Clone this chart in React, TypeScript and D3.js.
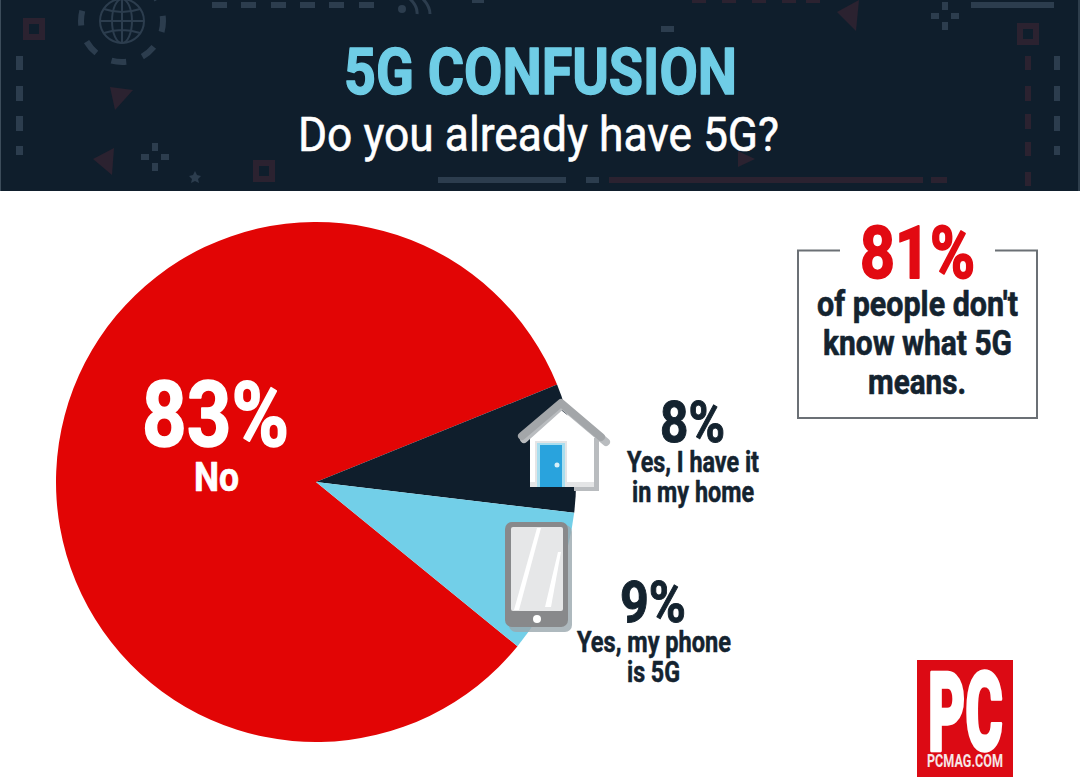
import React from "react";
import * as d3 from "d3";

const categories = ["No", "Yes, I have it in my home", "Yes, my phone is 5G"];
const shares = [83, 8, 9];
const sliceColors = ["#e20505", "#0f1e2c", "#72cfe8"];
const titleText = "5G CONFUSION";
const subtitleText = "Do you already have 5G?";
const calloutLines = ["of people don't", "know what 5G", "means."];

const NAVY = "#14232f";
const FONT = "Roboto, sans-serif";
const DECOR_GREY = "#2c3d4e";
const DECOR_RED = "#2b2230";

type TProps = { x: number; y: number; w: number; fs: number; fill: string; weight?: number; heavy?: number; children: React.ReactNode };
const T = ({ x, y, w, fs, fill, weight = 700, heavy = 0.018, children }: TProps) => (
  <text x={x} y={y} fontSize={fs} fontWeight={weight} fontFamily={FONT} fill={fill}
    stroke={fill} strokeWidth={fs * heavy} strokeLinejoin="round"
    textLength={w} lengthAdjust="spacingAndGlyphs">{children}</text>
);

const Plus = ({ cx, cy }: { cx: number; cy: number }) => (
  <g fill={DECOR_GREY}>
    <rect x={cx - 3} y={cy - 14} width={6} height={8} />
    <rect x={cx - 3} y={cy + 6} width={6} height={8} />
    <rect x={cx - 14} y={cy - 3} width={8} height={6} />
    <rect x={cx + 6} y={cy - 3} width={8} height={6} />
  </g>
);
const HollowSquare = ({ cx, cy }: { cx: number; cy: number }) => (
  <rect x={cx - 8} y={cy - 8} width={16} height={16} fill="none" stroke={DECOR_RED} strokeWidth={6} />
);

const Header = () => (
  <g>
    <rect x={0} y={0} width={1080} height={191} fill="#0f1e2c" />
    <rect x={0} y={0} width={1} height={191} fill="#3c4c5a" />
    <rect x={1078} y={0} width={2} height={191} fill="#2e3e4c" />
    {/* globe */}
    <g fill="none" stroke={DECOR_GREY} strokeWidth={2}>
      <circle cx={122} cy={21} r={22} />
      <ellipse cx={122} cy={21} rx={10} ry={22} />
      <path d="M122,-1V43M100,21H144M104,9Q122,15 140,9M104,33Q122,27 140,33" />
    </g>
    <circle cx={122} cy={21} r={41} fill="none" stroke={DECOR_GREY} strokeWidth={6} strokeDasharray="15 17" strokeDashoffset={4} />
    {/* top dashes */}
    {[212, 241, 271, 300, 329, 359].map((x) => <rect key={x} x={x} y={2} width={15} height={6} fill={DECOR_GREY} />)}
    <circle cx={402} cy={9} r={4} fill={DECOR_GREY} />
    <path d="M409,-2Q418,6 417,14M422,-2Q430,6 430,14" fill="none" stroke={DECOR_GREY} strokeWidth={3} />
    <rect x={472} y={0} width={12} height={3} fill={DECOR_GREY} />
    {/* left column */}
    {[[56, 14], [86, 15], [116, 15], [146, 9]].map(([y, h]) => <rect key={y} x={16} y={y} width={7} height={h} fill={DECOR_GREY} />)}
    <HollowSquare cx={34} cy={29} />
    <HollowSquare cx={264} cy={171} />
    <polygon points="110,87 133,90 115,110" fill={DECOR_RED} />
    <polygon points="114,148 93,159 112,175" fill={DECOR_RED} />
    <Plus cx={155} cy={157} />
    <polygon points="195,171 197,175 201,176 198,179 199,183 195,181 191,183 192,179 189,176 193,175" fill={DECOR_GREY} />
    {/* lower bars */}
    <rect x={438} y={177} width={128} height={6} fill={DECOR_GREY} />
    <rect x={586} y={177} width={13} height={6} fill={DECOR_GREY} />
    <rect x={609} y={177} width={314} height={6} fill={DECOR_RED} />
    <rect x={931} y={177} width={16} height={6} fill={DECOR_RED} />
    {/* right side */}
    <rect x={661} y={26} width={13} height={6} fill={DECOR_GREY} />
    <polygon points="738,151 755,159 738,167" fill={DECOR_RED} />
    {[692, 722, 752, 782, 806].map((x) => <rect key={x} x={x} y={0} width={14} height={3} fill={DECOR_RED} />)}
    <polygon points="859,0 837,12 856,31" fill={DECOR_RED} />
    <Plus cx={945} cy={16} />
    <rect x={971} y={2} width={83} height={6} fill={DECOR_GREY} />
    <HollowSquare cx={1028} cy={34} />
    {[[56, 14], [86, 15], [114, 15], [142, 14], [172, 14]].map(([y, h]) => <rect key={y} x={1025} y={y} width={6} height={h} fill={DECOR_RED} />)}
    {[[56, 14], [86, 15], [116, 15], [146, 9]].map(([y, h]) => <rect key={y} x={1054} y={y} width={6} height={h} fill={DECOR_GREY} />)}
    <T x={344} y={94} w={393} fs={64} fill="#6fcde6" heavy={0.022}>{titleText}</T>
    <T x={298} y={151} w={481} fs={49} fill="#ffffff" weight={400} heavy={0.012}>{subtitleText}</T>
  </g>
);

const HouseIcon = () => (
  <g>
    <rect x={574} y={487} width={25} height={4} fill="#b9bcbf" />
    <polygon points="530,434 561,410 599,440 599,487 530,487" fill="#ffffff" />
    <rect x={594} y={438} width={5} height={53} fill="#b9bcbf" />
    <rect x={530} y={482} width={64} height={5} fill="#e4e5e6" />
    <rect x={535} y={441} width={32} height={46} fill="#e4e5e6" />
    <rect x={537} y={443} width={28} height={44} fill="#a9deef" />
    <rect x={540} y={445} width={22} height={42} fill="#29a3dd" />
    <circle cx={557} cy={465} r={2.5} fill="#d8f0f8" />
    <path d="M523,438 L561,404 L605,441" fill="none" stroke="#b9bcbf" strokeWidth={8} strokeLinecap="round" strokeLinejoin="round" transform="translate(1,1)" />
    <path d="M522,436 L561,403 L601,437" fill="none" stroke="#a3a6a9" strokeWidth={8} strokeLinecap="round" strokeLinejoin="round" />
  </g>
);

const PhoneIcon = () => (
  <g>
    <rect x={509} y={525} width={63} height={107} rx={7} fill="#9aa7ae" opacity={0.8} />
    <rect x={505} y={522} width={63} height={105} rx={7} fill="#88898b" />
    <rect x={511} y={527} width={52} height={84} rx={2} fill="#e6e7e8" />
    <polygon points="537,528 541,528 519,610 514,610" fill="#ffffff" />
    <polygon points="558,552 561,552 551,607 545,607" fill="#ffffff" />
    <circle cx={537} cy={619} r={4} fill="#ffffff" />
  </g>
);

export default function App() {
  const deg = Math.PI / 180;
  const pie = d3.pie<number>().sort(null).startAngle(129.2 * deg).endAngle((129.2 + 360) * deg);
  const arc = d3.arc<d3.PieArcDatum<number>>().innerRadius(0).outerRadius(260);
  const slices = pie(shares);
  const pct = (i: number) => `${shares[i]}%`;
  return (
    <svg width={1080} height={777} viewBox="0 0 1080 777" style={{ position: "absolute", left: 0, top: 0, background: "#fff" }}>
      <Header />
      <g transform="translate(316,482)">
        {slices.map((s, i) => <path key={categories[i]} d={arc(s) as string} fill={sliceColors[i]} />)}
      </g>
      <T x={142} y={446} w={147} fs={90} fill="#ffffff">{pct(0)}</T>
      <T x={194} y={491} w={45} fs={40} fill="#ffffff">{categories[0]}</T>

      <HouseIcon />
      <PhoneIcon />

      <T x={660} y={442} w={65} fs={57} fill={NAVY}>{pct(1)}</T>
      <T x={627} y={472} w={132} fs={30} fill={NAVY}>Yes, I have it</T>
      <T x={632} y={502} w={122} fs={30} fill={NAVY}>in my home</T>

      <T x={620} y={622} w={66} fs={57} fill={NAVY}>{pct(2)}</T>
      <T x={577} y={652} w={154} fs={30} fill={NAVY}>Yes, my phone</T>
      <T x={627} y={682} w={53} fs={30} fill={NAVY}>is 5G</T>

      <path d="M840,250.5H798V418H1037V250.5H995" fill="none" stroke="#6b7075" strokeWidth={2} />
      <T x={860} y={278} w={115} fs={73} fill="#e20a12" heavy={0.025}>81%</T>
      <T x={817} y={316} w={201} fs={35} fill={NAVY}>{calloutLines[0]}</T>
      <T x={823} y={355} w={189} fs={35} fill={NAVY}>{calloutLines[1]}</T>
      <T x={868} y={394} w={98} fs={35} fill={NAVY}>{calloutLines[2]}</T>

      <rect x={917} y={660} width={96} height={117} fill="#dc0a14" />
      <T x={928} y={750} w={75} fs={110} fill="#ffffff" weight={900} heavy={0.03}>PC</T>
      <T x={927} y={767} w={76} fs={18} fill="#f6e6e6" heavy={0}>PCMAG.COM</T>
    </svg>
  );
}
